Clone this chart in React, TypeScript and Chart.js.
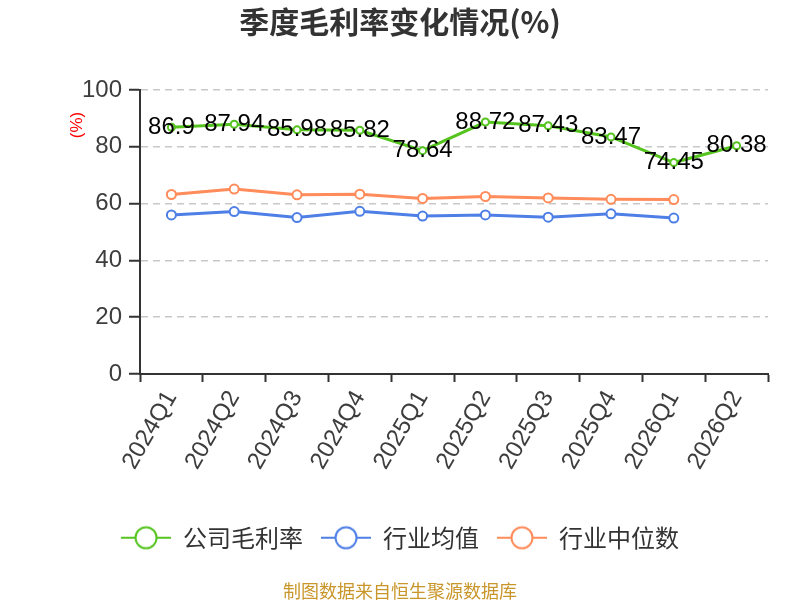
import React, { useEffect, useRef } from 'react';
import { Chart, registerables } from 'chart.js';

Chart.register(...registerables);

// ---------- data ----------
const categories = ['2024Q1', '2024Q2', '2024Q3', '2024Q4', '2025Q1', '2025Q2', '2025Q3', '2025Q4', '2026Q1', '2026Q2'];
const companyGross = [86.9, 87.94, 85.98, 85.82, 78.64, 88.72, 87.43, 83.47, 74.45, 80.38];
const industryMean = [56.0, 57.2, 55.1, 57.3, 55.6, 56.0, 55.2, 56.4, 54.9, null];
const industryMedian = [63.2, 65.1, 63.1, 63.3, 61.8, 62.5, 62.0, 61.5, 61.4, null];
const seriesNames = ['公司毛利率', '行业均值', '行业中位数'];
const yMin = 0;
const yMax = 100;
const yStep = 20;
const chartTitle = '季度毛利率变化情况(%)';
const yAxisTitle = '(%)';
const sourceNote = '制图数据来自恒生聚源数据库';

// ---------- styles ----------
const FONT = '"Liberation Sans", Arial, "Noto Sans CJK SC", sans-serif';
const CJK_FONT = '"Noto Sans CJK SC", "Liberation Sans", sans-serif';
const seriesColors = ['#55c41f', '#4e7fe6', '#ff8c5a'];
const axisColor = '#333333';
const tickTextColor = '#3d3d3d';

function makeLegendIcon(color: string): HTMLCanvasElement {
  const c = document.createElement('canvas');
  c.width = 50;
  c.height = 26;
  const ctx = c.getContext('2d')!;
  ctx.strokeStyle = color;
  ctx.lineWidth = 2;
  ctx.beginPath();
  ctx.moveTo(0, 13);
  ctx.lineTo(50, 13);
  ctx.stroke();
  ctx.beginPath();
  ctx.arc(25, 13, 10.5, 0, Math.PI * 2);
  ctx.fillStyle = '#ffffff';
  ctx.fill();
  ctx.stroke();
  return c;
}

const overlayPlugin = {
  id: 'overlay',
  afterDatasetsDraw(chart: any) {
    const ctx = chart.ctx as CanvasRenderingContext2D;
    const meta = chart.getDatasetMeta(0);
    ctx.save();
    ctx.font = `24px ${FONT}`;
    ctx.fillStyle = '#000000';
    ctx.textAlign = 'center';
    ctx.textBaseline = 'middle';
    meta.data.forEach((pt: any, i: number) => {
      const v = companyGross[i];
      if (v == null) return;
      ctx.fillText(String(v), pt.x, pt.y);
    });
    ctx.restore();
  },
  afterDraw(chart: any) {
    const ctx = chart.ctx as CanvasRenderingContext2D;
    ctx.save();
    ctx.translate(77.5, 125);
    ctx.rotate(-Math.PI / 2);
    ctx.font = `17px ${FONT}`;
    ctx.fillStyle = '#ff0000';
    ctx.textAlign = 'center';
    ctx.textBaseline = 'middle';
    ctx.fillText(yAxisTitle, 0, 0);
    ctx.restore();
  },
};

export default function App() {
  const canvasRef = useRef<HTMLCanvasElement | null>(null);

  useEffect(() => {
    if (!canvasRef.current) return;
    const icons = seriesColors.map((c) => makeLegendIcon(c));
    const mkDataset = (label: string, data: (number | null)[], color: string, radius: number) => ({
      label,
      data,
      borderColor: color,
      backgroundColor: color,
      borderWidth: 3,
      pointRadius: radius,
      pointHoverRadius: radius,
      pointBorderWidth: 2,
      pointBorderColor: color,
      pointBackgroundColor: '#ffffff',
      tension: 0,
      fill: false,
    });
    const chart = new Chart(canvasRef.current, {
      type: 'line',
      data: {
        labels: categories,
        datasets: [
          mkDataset(seriesNames[0], companyGross, seriesColors[0], 3.5),
          mkDataset(seriesNames[1], industryMean, seriesColors[1], 4.5),
          mkDataset(seriesNames[2], industryMedian, seriesColors[2], 4.5),
        ],
      },
      options: {
        responsive: true,
        maintainAspectRatio: false,
        animation: false,
        layout: { padding: { left: 32, right: 32, top: 0, bottom: 0 } },
        plugins: {
          title: {
            display: true,
            text: chartTitle,
            color: '#333333',
            font: { family: CJK_FONT, size: 30, weight: 'bold', lineHeight: 1.2 },
            padding: { top: 4, bottom: 50 },
          },
          subtitle: {
            display: true,
            position: 'bottom',
            text: sourceNote,
            color: '#c9962b',
            font: { family: CJK_FONT, size: 18, lineHeight: 1 },
            padding: { top: 22.3, bottom: 0 },
          },
          legend: {
            display: true,
            position: 'bottom',
            labels: {
              usePointStyle: true,
              pointStyleWidth: 50,
              boxHeight: 24,
              padding: 18,
              color: '#333333',
              font: { family: CJK_FONT, size: 24 },
              generateLabels: (ch: any) => {
                const items = Chart.defaults.plugins.legend.labels.generateLabels(ch);
                return items.map((it: any) => ({
                  ...it,
                  pointStyle: icons[it.datasetIndex],
                  fontColor: '#333333',
                }));
              },
            },
          },
          tooltip: { enabled: false },
        },
        scales: {
          x: {
            type: 'category',
            offset: true,
            afterFit: (scale: any) => {
              scale.height = 133.7;
            },
            grid: {
              display: true,
              offset: true,
              drawOnChartArea: false,
              drawTicks: true,
              tickLength: 8,
              tickColor: axisColor,
              tickWidth: 2,
            },
            border: { display: true, color: axisColor, width: 2 },
            ticks: {
              autoSkip: false,
              minRotation: 60,
              maxRotation: 60,
              padding: 4,
              color: tickTextColor,
              font: { family: FONT, size: 24 },
            },
          },
          y: {
            type: 'linear',
            min: yMin,
            max: yMax,
            afterFit: (scale: any) => {
              scale.width = 108;
            },
            ticks: {
              stepSize: yStep,
              padding: 7,
              color: tickTextColor,
              font: { family: FONT, size: 24 },
            },
            grid: {
              display: true,
              color: '#c8c8c8',
              lineWidth: 1.5,
              drawTicks: true,
              tickLength: 11,
              tickColor: axisColor,
              tickWidth: 2,
              tickBorderDash: [],
            },
            border: { display: true, color: axisColor, width: 2, dash: [7, 5] },
          },
        },
      },
      plugins: [overlayPlugin],
    });
    return () => chart.destroy();
  }, []);

  return (
    <div style={{ position: 'fixed', left: 0, top: 0, width: 800, height: 600, background: '#ffffff' }}>
      <canvas ref={canvasRef} />
    </div>
  );
}
